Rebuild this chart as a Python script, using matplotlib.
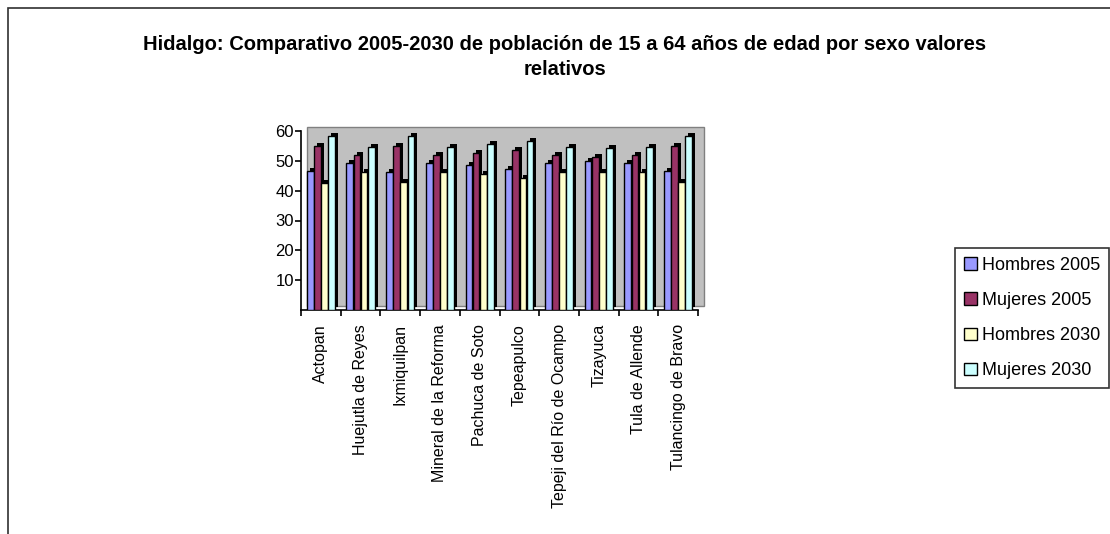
import matplotlib.pyplot as plt
from matplotlib.patches import Rectangle, Patch
from matplotlib.transforms import offset_copy

# municipios y porcentajes de poblacion 15-64 años
municipios = ["Actopan", "Huejutla de Reyes", "Ixmiquilpan", "Mineral de la Reforma",
              "Pachuca de Soto", "Tepeapulco", "Tepeji del Río de Ocampo", "Tizayuca",
              "Tula de Allende", "Tulancingo de Bravo"]
hombres_2005 = [46.5, 49.3, 46.3, 49.3, 48.5, 47.2, 49.3, 50.0, 49.3, 46.5]
mujeres_2005 = [55.0, 52.0, 55.0, 52.0, 52.7, 53.7, 52.0, 51.3, 52.0, 55.0]
hombres_2030 = [42.6, 46.3, 43.0, 46.3, 45.7, 44.4, 46.3, 46.3, 46.3, 43.0]
mujeres_2030 = [58.3, 54.8, 58.3, 54.8, 55.5, 56.6, 54.8, 54.2, 54.8, 58.3]

series = [("Hombres 2005", hombres_2005, "#9999FF"),
          ("Mujeres 2005", mujeres_2005, "#993366"),
          ("Hombres 2030", hombres_2030, "#FFFFCC"),
          ("Mujeres 2030", mujeres_2030, "#CCFFFF")]

plt.rcParams['font.family'] = ['Liberation Sans', 'DejaVu Sans']

fig = plt.figure(figsize=(11.1, 5.34), dpi=100, facecolor='w')
W, H = 1110, 534

# marco del grafico
fig.patches.append(Rectangle((8 / W, -0.1), 1.2, 1.1 - 8 / H, transform=fig.transFigure,
                             fill=False, edgecolor='#303030', lw=1.2))

ax = fig.add_axes([301 / W, 1 - 310 / H, 397 / W, 179 / H])
ax.set_facecolor('none')

# pared de fondo gris (efecto 3D)
pared = offset_copy(ax.transAxes, fig, x=6, y=4, units='dots')
ax.add_patch(Rectangle((0, 0), 1, 1.0, transform=pared, facecolor='#C0C0C0',
                       edgecolor='#808080', lw=1, zorder=0, clip_on=False))

ancho = 0.17
sombra = offset_copy(ax.transData, fig, x=3, y=3, units='dots')
for k, (nombre, valores, color) in enumerate(series):
    xs = [i + (k - 1.5) * 0.18 for i in range(len(municipios))]
    ax.bar(xs, valores, ancho, color='k', transform=sombra, zorder=2, clip_on=False)
    ax.bar(xs, valores, ancho, color=color, edgecolor='k', lw=1, zorder=3, label=nombre)

ax.set_xlim(-0.5, len(municipios) - 0.5)
ax.set_ylim(0, 60)
ax.set_yticks([10, 20, 30, 40, 50, 60])
ax.tick_params(axis='y', length=4, labelsize=12, pad=1)
ax.set_xticks(range(len(municipios)))
ax.set_xticklabels(municipios, rotation=90, fontsize=11.5, va='top')
ax.set_xticks([i - 0.5 for i in range(len(municipios) + 1)], minor=True)
ax.tick_params(axis='x', which='major', length=0, pad=10)
ax.tick_params(axis='x', which='minor', length=4, width=1.2)
ax.tick_params(axis='y', width=1.2)
for s in ['top', 'right']:
    ax.spines[s].set_visible(False)
for s in ['left', 'bottom']:
    ax.spines[s].set_linewidth(1.2)

fig.text(565 / W, 1 - 57 / H,
         "Hidalgo: Comparativo 2005-2030 de población de 15 a 64 años de edad por sexo valores\nrelativos",
         ha='center', va='center', fontsize=14.5, fontweight='bold', linespacing=1.4)

handles = [Patch(facecolor=c, edgecolor='k', label=n) for n, v, c in series]
leg = fig.legend(handles=handles, loc='upper left', bbox_to_anchor=(955 / W, 1 - 248 / H),
                 fontsize=13, frameon=True, fancybox=False, edgecolor='k',
                 handlelength=0.7, handleheight=0.7, handletextpad=0.3,
                 labelspacing=1.0, borderpad=0.5, borderaxespad=0)
leg.get_frame().set_linewidth(1.2)

plt.savefig("out.png")
